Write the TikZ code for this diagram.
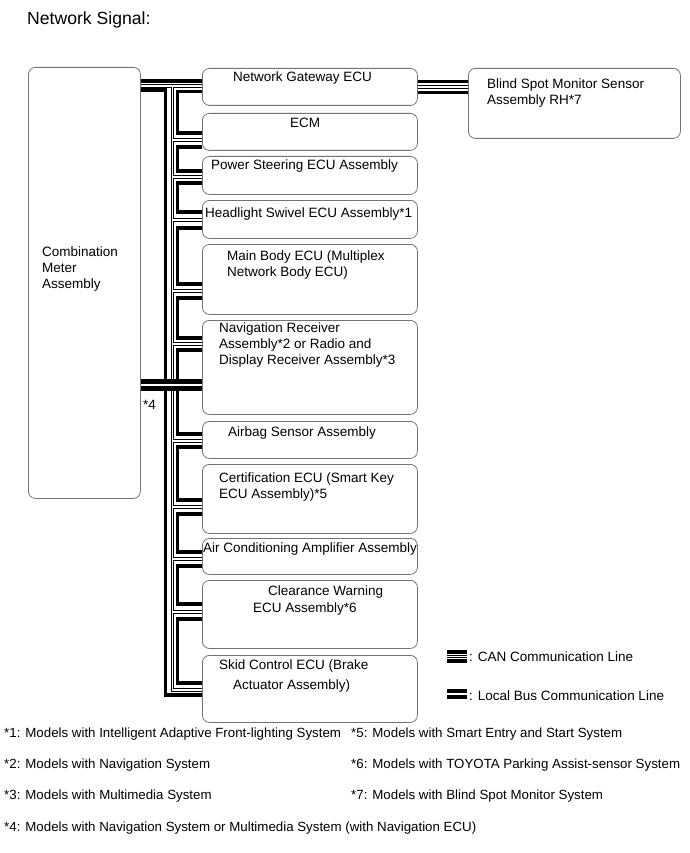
\documentclass[tikz,border=0pt]{standalone}
\usepackage{fontspec}
\setmainfont{Liberation Sans}
\usetikzlibrary{calc}
\begin{document}
\begin{tikzpicture}[x=1pt,y=-1pt,
  box/.style={draw=black!55, line width=0.8pt, rounded corners=7pt, inner sep=0pt, anchor=north west},
  lbl/.style={anchor=base west, inner sep=0pt, font=\fontsize{13.5}{15}\selectfont},
  note/.style={anchor=base west, inner sep=0pt, font=\fontsize{13.3}{15}\selectfont},
  ttl/.style={anchor=base west, inner sep=0pt, font=\fontsize{17.6}{20}\selectfont},
  thk/.style={draw=black, line width=3.2pt, line join=miter},
  thn/.style={draw=black, line width=0.7pt, double=white, double distance=1.7pt, line join=miter},
  halo/.style={preaction={draw=white, line width=4.6pt}},
]
\useasboundingbox (0,0) rectangle (689,853);
\fill[white] (0,0) rectangle (689,853);

\node[ttl] (title) at (27,25) {Network Signal:};

% boxes
\node[box, minimum width=112pt, minimum height=431pt] (cm) at (28,67) {};
\node[box, minimum width=215pt, minimum height=37pt] (gw) at (202,68) {};
\node[box, minimum width=215pt, minimum height=37pt] (ecm) at (202,113) {};
\node[box, minimum width=215pt, minimum height=38pt] (ps) at (202,156) {};
\node[box, minimum width=215pt, minimum height=38pt] (hl) at (202,200) {};
\node[box, minimum width=215pt, minimum height=70pt] (mb) at (202,244) {};
\node[box, minimum width=215pt, minimum height=94pt] (nav) at (202,320) {};
\node[box, minimum width=215pt, minimum height=37pt] (ab) at (202,421) {};
\node[box, minimum width=215pt, minimum height=69pt] (cert) at (202,464) {};
\node[box, minimum width=215pt, minimum height=36pt] (ac) at (202,538) {};
\node[box, minimum width=215pt, minimum height=68pt] (cw) at (202,580) {};
\node[box, minimum width=215pt, minimum height=67pt] (skid) at (202,655) {};
\node[box, minimum width=212pt, minimum height=70pt] (bs) at (468,68) {};

% box texts
\node[lbl] (cm1) at (42,256) {Combination};
\node[lbl] (cm2) at (42,272) {Meter};
\node[lbl] (cm3) at (42,288) {Assembly};
\node[lbl] (gwt) at (233,82) {Network Gateway ECU};
\node[lbl] (ecmt) at (290,128) {ECM};
\node[lbl] (pst) at (211,170) {Power Steering ECU Assembly};
\node[lbl] (hlt) at (205,217) {Headlight Swivel ECU Assembly*1};
\node[lbl] (mb1) at (227,260) {Main Body ECU (Multiplex};
\node[lbl] (mb2) at (227,276) {Network Body ECU)};
\node[lbl] (nav1) at (219,332) {Navigation Receiver};
\node[lbl] (nav2) at (219,348) {Assembly*2 or Radio and};
\node[lbl] (nav3) at (219,364) {Display Receiver Assembly*3};
\node[lbl] (abt) at (228,436) {Airbag Sensor Assembly};
\node[lbl] (cert1) at (219,482) {Certification ECU (Smart Key};
\node[lbl] (cert2) at (219,498) {ECU Assembly)*5};
\node[lbl] (act) at (203,552) {Air Conditioning Amplifier Assembly};
\node[lbl] (cw1) at (268,595) {Clearance Warning};
\node[lbl] (cw2) at (253,612) {ECU Assembly*6};
\node[lbl] (sk1) at (219,669) {Skid Control ECU (Brake};
\node[lbl] (sk2) at (233,689) {Actuator Assembly)};
\node[lbl] (bs1) at (487,89) {Blind Spot Monitor Sensor};
\node[lbl] (bs2) at (487,105) {Assembly RH*7};
\node[lbl] (star4) at (143,409) {*4};

% thin (double) CAN line net
\draw[thn] (cm.east |- 0,86) -- (gw.west |- 0,86)
  (172.5,86) -- (172.5,690) -- (skid.west |- 0,690)
  (172.5,140) -- (ecm.west |- 0,140)
  (172.5,177) -- (ps.west |- 0,177)
  (172.5,220) -- (hl.west |- 0,220)
  (172.5,291) -- (mb.west |- 0,291)
  (172.5,344) -- (nav.west |- 0,344)
  (172.5,441) -- (ab.west |- 0,441)
  (172.5,507) -- (cert.west |- 0,507)
  (172.5,559) -- (ac.west |- 0,559)
  (172.5,612) -- (cw.west |- 0,612);
% outer thick line
\draw[thk] (cm.east |- 0,81) -- (gw.west |- 0,81);
\draw[thk] (cm.east |- 0,90) -- (165.5,90) -- (165.5,695) -- (skid.west |- 0,695);
% inner thick daisy chain
\draw[thk] (gw.west |- 0,91.5) -- (177.5,91.5) -- (177.5,133) -- (ecm.west |- 0,133);
\draw[thk] (ecm.west |- 0,147) -- (177.5,147) -- (177.5,171) -- (ps.west |- 0,171);
\draw[thk] (ps.west |- 0,183) -- (177.5,183) -- (177.5,212) -- (hl.west |- 0,212);
\draw[thk] (hl.west |- 0,228) -- (177.5,228) -- (177.5,284) -- (mb.west |- 0,284);
\draw[thk] (mb.west |- 0,298) -- (177.5,298) -- (177.5,338) -- (nav.west |- 0,338);
\draw[thk] (nav.west |- 0,350) -- (177.5,350) -- (177.5,434) -- (ab.west |- 0,434);
\draw[thk] (ab.west |- 0,447) -- (177.5,447) -- (177.5,500) -- (cert.west |- 0,500);
\draw[thk] (cert.west |- 0,514) -- (177.5,514) -- (177.5,552) -- (ac.west |- 0,552);
\draw[thk] (ac.west |- 0,566) -- (177.5,566) -- (177.5,604) -- (cw.west |- 0,604);
\draw[thk] (cw.west |- 0,619) -- (177.5,619) -- (177.5,683) -- (skid.west |- 0,683);

% *4 crossing
\draw[thk, halo] (cm.east |- 0,381) -- (nav.west |- 0,381);
\draw[thn, halo] (cm.east |- 0,385) -- (nav.west |- 0,385);
\draw[thk, halo] (cm.east |- 0,389) -- (nav.west |- 0,389);

% gateway to blind spot
\draw[thk] (gw.east |- 0,81.5) -- (bs.west |- 0,81.5);
\draw[thn] (gw.east |- 0,87) -- (bs.west |- 0,87);
\draw[thk] (gw.east |- 0,92.5) -- (bs.west |- 0,92.5);

% legend
\draw[thk] (447,652) -- (467,652);
\draw[thn] (447,656.5) -- (467,656.5);
\draw[thk] (447,661) -- (467,661);
\node[lbl] (lg1) at (469,661) {: CAN Communication Line};
\draw[thk] (447,691) -- (467,691);
\draw[thk] (447,697) -- (467,697);
\node[lbl] (lg2) at (469,700) {: Local Bus Communication Line};

% footnotes
\node[note] (n1) at (4,737.5) {*1: Models with Intelligent Adaptive Front-lighting System};
\node[note] (n5) at (351,737.5) {*5: Models with Smart Entry and Start System};
\node[note] (n2) at (4,768.5) {*2: Models with Navigation System};
\node[note] (n6) at (351,768.5) {*6: Models with TOYOTA Parking Assist-sensor System};
\node[note] (n3) at (4,799.5) {*3: Models with Multimedia System};
\node[note] (n7) at (351,799.5) {*7: Models with Blind Spot Monitor System};
\node[note] (n4) at (4,831.5) {*4: Models with Navigation System or Multimedia System (with Navigation ECU)};
\end{tikzpicture}
\end{document}
